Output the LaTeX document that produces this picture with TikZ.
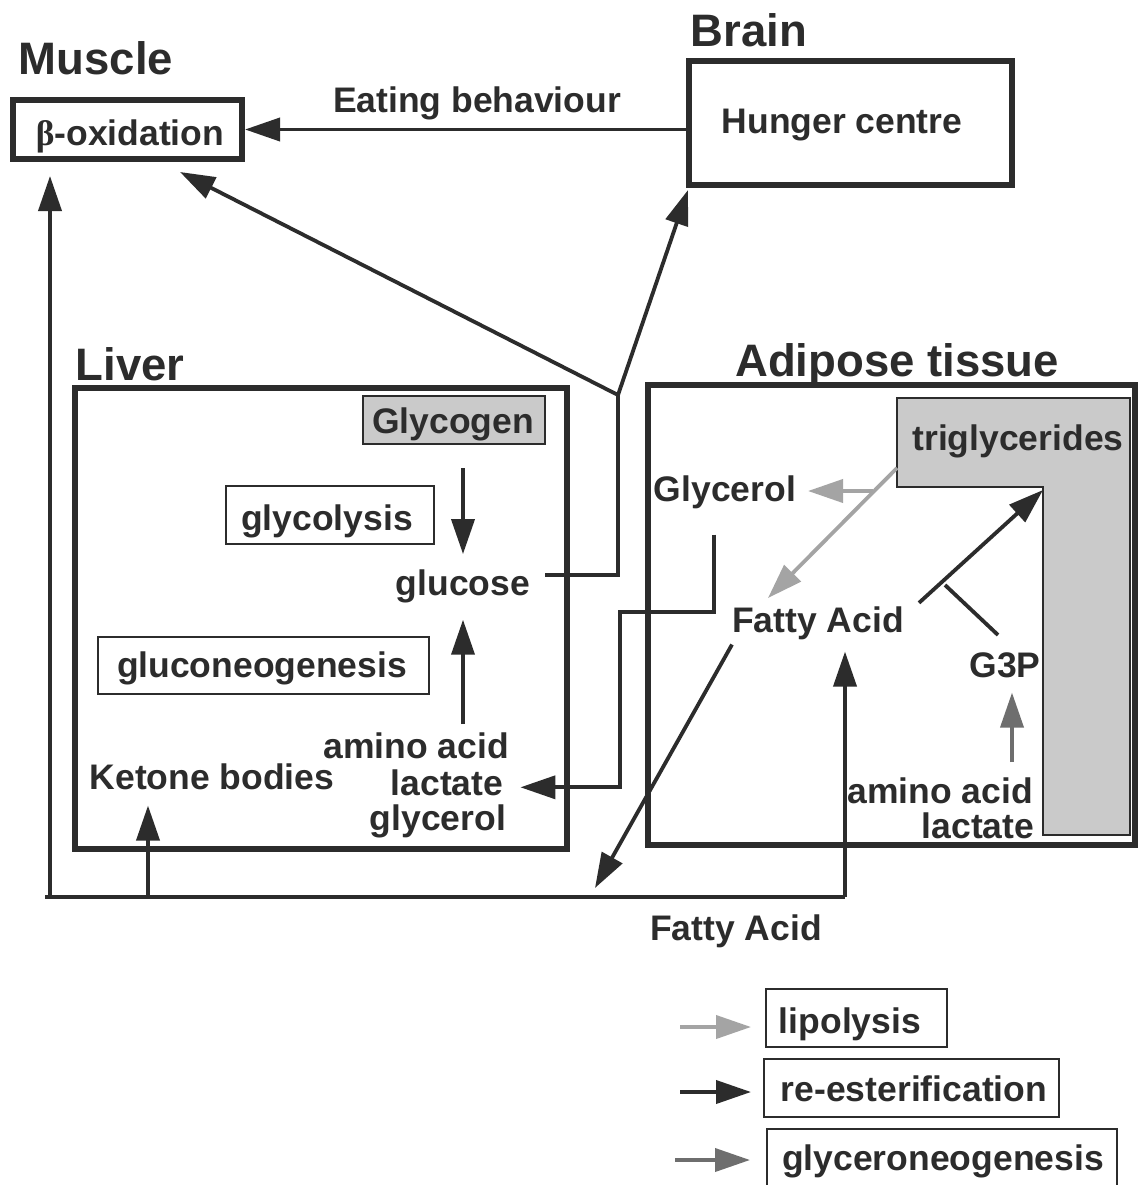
\documentclass[tikz,border=0pt]{standalone}
\usepackage{fontspec}
\setmainfont{Liberation Sans}
\newfontfamily\serifb{Liberation Serif}
\usetikzlibrary{arrows.meta,calc}
\definecolor{ink}{HTML}{2C2C2C}
\definecolor{lipo}{HTML}{A4A4A4}
\definecolor{glyc}{HTML}{6E6E6E}
\definecolor{fillg}{HTML}{CACACA}
\begin{document}
\begin{tikzpicture}[x=1pt,y=-1pt,
  txt/.style={font=\bfseries\fontsize{35.5}{40}\selectfont, text=ink, inner sep=0pt, anchor=base},
  head/.style={font=\bfseries\fontsize{45.5}{50}\selectfont, text=ink, inner sep=0pt, anchor=base},
  bigbox/.style={draw=ink, line width=6pt, inner sep=0pt},
  smallbox/.style={draw=ink, line width=2pt, inner sep=0pt},
  conn/.style={draw=ink, line width=3.8pt},
  tipd/.style={-{Triangle[length=35pt,width=23pt]}},
  lipoarr/.style={draw=lipo, line width=3.8pt, -{Triangle[length=35pt,width=23pt]}},
  glycarr/.style={draw=glyc, line width=3.8pt, -{Triangle[length=35pt,width=23pt]}},
]
\useasboundingbox (0,0) rectangle (1138,1185);
\fill[white] (0,0) rectangle (1138,1185);

% ---------- Muscle and Brain ----------
\node[head] (muscle) at (96,75) {Muscle};
\node[bigbox, minimum width=229pt, minimum height=59pt] (box) at (127.5,129.5) {};
\node[txt] (boxt) at (130,146) {{\serifb β}-oxidation};
\node[head] (brain) at (749,47) {Brain};
\node[bigbox, minimum width=323pt, minimum height=124pt] (hunger) at (850.5,123) {};
\node[txt] (huntxt) at (842,134) {Hunger centre};
\node[txt] (eating) at (477,113) {Eating behaviour};

% ---------- Liver ----------
\node[head] (liver) at (130,380) {Liver};
\node[bigbox, minimum width=492pt, minimum height=461pt] (liverbox) at (321,618.5) {};
\node[smallbox, fill=fillg, minimum width=182pt, minimum height=48pt] (glycogen) at (454,420) {};
\node[txt] (glycogent) at (453,433) {Glycogen};
\node[smallbox, minimum width=208pt, minimum height=58pt] (glycolysis) at (330,515) {};
\node[txt] (glycolysist) at (327,530) {glycolysis};
\node[smallbox, minimum width=331pt, minimum height=57pt] (gng) at (263.5,665.5) {};
\node[txt] (gngt) at (262,677) {gluconeogenesis};
\node[txt] (glucose) at (463,595) {glucose};
\node[txt] (aa1) at (416,758) {amino acid};
\node[txt] (lac1) at (447,795) {lactate};
\node[txt] (gly1) at (438,830) {glycerol};
\node[txt] (ketone) at (212,789) {Ketone bodies};

% ---------- Adipose tissue ----------
\node[head] (adipose) at (897,376) {Adipose tissue};
\node[bigbox, minimum width=487pt, minimum height=460pt] (adibox) at (891.5,615) {};
\filldraw[fill=fillg, draw=ink, line width=2pt] (897,398) -- (1130,398) -- (1130,835) -- (1043,835) -- (1043,487) -- (897,487) -- cycle;
\node[txt] (tg) at (1018,450) {triglycerides};
\node[txt] (glycerol) at (725,501) {Glycerol};
\node[txt] (fa) at (818,632) {Fatty Acid};
\node[txt] (g3p) at (1005,677) {G3P};
\node[txt] (aa2) at (940,803) {amino acid};
\node[txt] (lac2) at (978,838) {lactate};
\node[txt] (fa2) at (736,940) {Fatty Acid};

% ---------- coordinates ----------
\coordinate (J1) at (618,395);
\coordinate (tipBox) at (180,172);
\coordinate (tipHunger) at (688,190);
\coordinate (bl) at (45,897);
\coordinate (br) at (845,897);
\coordinate (tgcorner) at (1043,490);
\coordinate (tgedge) at (897,468);
\coordinate (tgmid) at (873,491);
\coordinate (glytip) at (808,491);
\coordinate (branch) at (945,585);
\coordinate (g3pbar) at (998,635);

% ---------- connectors ----------
\draw[conn, tipd] (hunger.west |- box.east) -- (box.east);
\draw[conn, tipd] (463,468) -- ($(glucose.north)+(0,-15)$);
\draw[conn, tipd] ($(glucose.south |- aa1.north)+(0,-8)$) -- ($(glucose.south)+(0,17)$);
\draw[conn] ($(glucose.east)+(15,-11)$) -| (J1);
\draw[conn, tipd] (J1) -- (tipBox);
\draw[conn, tipd] (J1) -- (tipHunger);
\draw[conn, tipd] ($(glycerol.south)+(-11,26)$) |- (620,612) |- ($(lac1.east)+(17,5)$);
\draw[conn] (bl) -- (br);
\draw[conn, tipd] (50,897) -- ($(box.south west)+(40,14)$);
\draw[conn, tipd] (148,897) -- ($(ketone.south -| 148,0)+(0,16)$);
\draw[conn, tipd] (br) -- ($(fa.south -| br)+(0,12)$);
\draw[conn, tipd] ($(fa.south west)+(0,5)$) -- (595,888);
\draw[lipoarr] (tgedge) -- (768,598);
\draw[lipoarr] (tgmid) -- (glytip);
\draw[conn, tipd] ($(fa.east)+(15,-20)$) -- (tgcorner);
\draw[conn] (g3pbar) -- (branch);
\draw[glycarr] (1012,762) -- ($(g3p.south)+(7,15)$);

% ---------- legend ----------
\node[smallbox, minimum width=181pt, minimum height=58pt] (leg1) at (856.5,1018) {};
\node[txt] (leg1t) at (850,1033) {lipolysis};
\node[smallbox, minimum width=295pt, minimum height=58pt] (leg2) at (911.5,1088) {};
\node[txt] (leg2t) at (914,1101) {re-esterification};
\node[smallbox, minimum width=350pt, minimum height=65pt] (leg3) at (942,1161.5) {};
\node[txt] (leg3t) at (943,1170) {glyceroneogenesis};
\coordinate (l1) at (680,1027);
\coordinate (l2) at (680,1092);
\coordinate (l3) at (675,1160);
\draw[lipoarr] (l1) -- ($(leg1.west |- l1)+(-14,0)$);
\draw[conn, tipd] (l2) -- ($(leg2.west |- l2)+(-12,0)$);
\draw[glycarr] (l3) -- ($(leg3.west |- l3)+(-16,0)$);
\end{tikzpicture}
\end{document}
